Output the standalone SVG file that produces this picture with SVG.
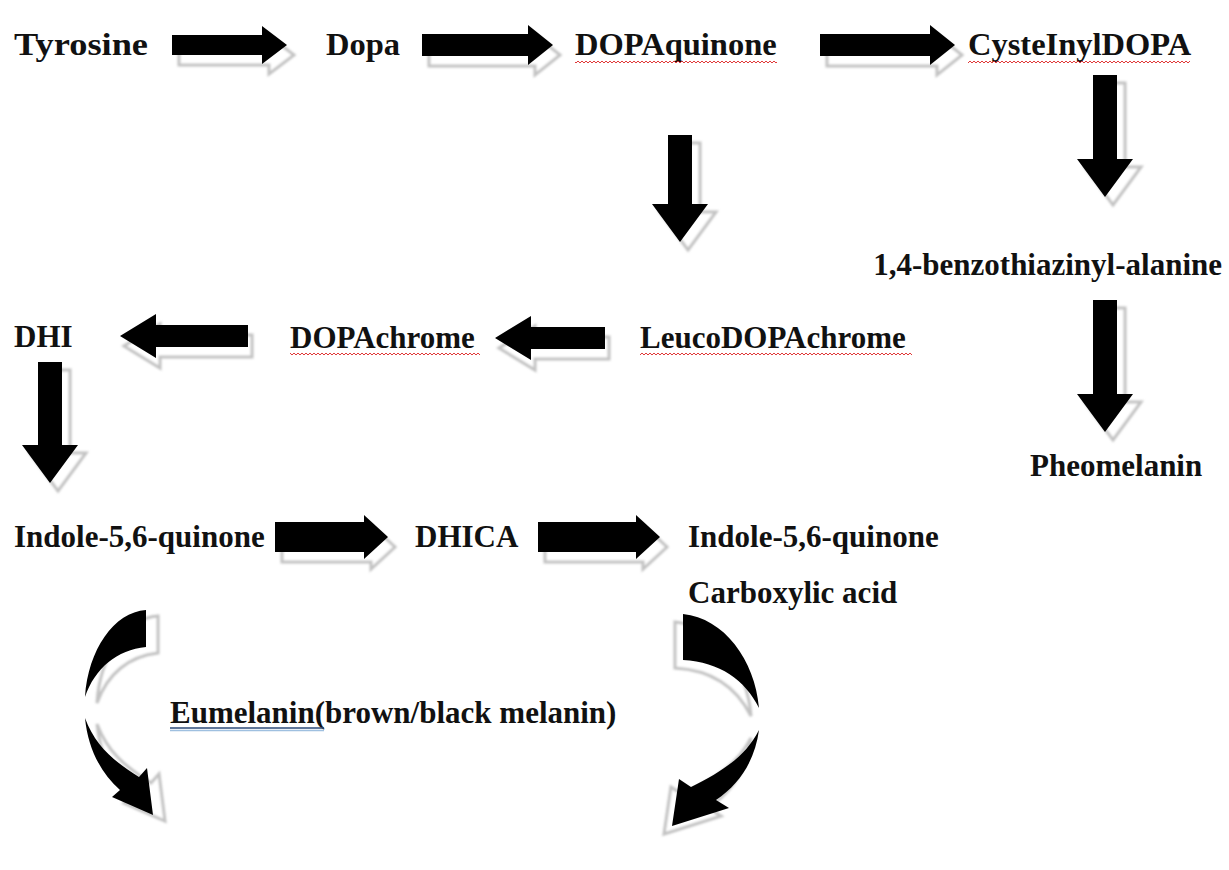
<svg xmlns="http://www.w3.org/2000/svg" width="1229" height="870" viewBox="0 0 1229 870">
<defs>
<style>
.t{font-family:"Liberation Serif","Times New Roman",serif;font-weight:bold;font-size:31px;fill:#111}
.big{font-size:32.5px}
.ar{fill:#000}
.sh{fill:#fff;stroke:#c2c2c2;stroke-width:3;filter:url(#soft)}
</style>
<filter id="soft" x="-20%" y="-20%" width="140%" height="140%"><feGaussianBlur stdDeviation="1"/></filter>
<pattern id="wave" patternUnits="userSpaceOnUse" width="4" height="4"><path d="M0,3 L2,1 L4,3" fill="none" stroke="#d22" stroke-width="0.9"/></pattern>
</defs>
<rect width="1229" height="870" fill="#fff"/>
<g id="connectors">
  <!-- row 1 right arrows -->
  <g transform="translate(7,10)" class="sh">
    <polygon points="172,35 262,35 262,26 287,45 262,64 262,55 172,55"/>
    <polygon points="422,34 528,34 528,25 553,45 528,65 528,56 422,56"/>
    <polygon points="820,34 930,34 930,25 955,45 930,65 930,56 820,56"/>
  </g>
  <polygon class="ar" points="172,35 262,35 262,26 287,45 262,64 262,55 172,55"/>
  <polygon class="ar" points="422,34 528,34 528,25 553,45 528,65 528,56 422,56"/>
  <polygon class="ar" points="820,34 930,34 930,25 955,45 930,65 930,56 820,56"/>
  <!-- down arrows -->
  <g transform="translate(8,8)" class="sh">
    <polygon points="668,135 692,135 692,204 708,204 680,242 652,204 668,204"/>
    <polygon points="1093,75 1117,75 1117,159 1133,159 1105,197 1077,159 1093,159"/>
    <polygon points="1093,300 1117,300 1117,394 1133,394 1105,432 1077,394 1093,394"/>
    <polygon points="38,362 62,362 62,445 78,445 50,483 22,445 38,445"/>
  </g>
  <polygon class="ar" points="668,135 692,135 692,204 708,204 680,242 652,204 668,204"/>
  <polygon class="ar" points="1093,75 1117,75 1117,159 1133,159 1105,197 1077,159 1093,159"/>
  <polygon class="ar" points="1093,300 1117,300 1117,394 1133,394 1105,432 1077,394 1093,394"/>
  <polygon class="ar" points="38,362 62,362 62,445 78,445 50,483 22,445 38,445"/>
  <!-- left arrows -->
  <g transform="translate(4,10)" class="sh">
    <polygon points="248,325 156,325 156,314 120,336 156,358 156,347 248,347"/>
    <polygon points="605,327 531,327 531,316 495,338 531,360 531,349 605,349"/>
  </g>
  <polygon class="ar" points="248,325 156,325 156,314 120,336 156,358 156,347 248,347"/>
  <polygon class="ar" points="605,327 531,327 531,316 495,338 531,360 531,349 605,349"/>
  <!-- row 4 right arrows -->
  <g transform="translate(7,10)" class="sh">
    <polygon points="275,522 364,522 364,515 388,537 364,559 364,552 275,552"/>
    <polygon points="538,522 636,522 636,515 660,537 636,559 636,552 538,552"/>
  </g>
  <polygon class="ar" points="275,522 364,522 364,515 388,537 364,559 364,552 275,552"/>
  <polygon class="ar" points="538,522 636,522 636,515 660,537 636,559 636,552 538,552"/>
  <!-- curved arrows -->
  <g transform="translate(12,6)" class="sh">
    <path d="M146,610 C114,612 88,650 85,697 C95,668 117,650 146,647 Z"/>
    <path d="M85,718 C88,748 100,772 120,790 L112,797 L153,815 L147,768 L139,777 C112,760 95,745 85,718 Z"/>
  </g>
  <path class="ar" d="M146,610 C114,612 88,650 85,697 C95,668 117,650 146,647 Z"/>
  <path class="ar" d="M85,718 C88,748 100,772 120,790 L112,797 L153,815 L147,768 L139,777 C112,760 95,745 85,718 Z"/>
  <g transform="translate(-8,8)" class="sh">
    <path d="M683,614 C724,618 755,660 759,708 C745,680 720,662 683,660 Z"/>
    <path d="M759,730 C755,760 740,784 716,800 L729,808 L672,826 L679,779 L691,787 C723,771 746,756 759,730 Z"/>
  </g>
  <path class="ar" d="M683,614 C724,618 755,660 759,708 C745,680 720,662 683,660 Z"/>
  <path class="ar" d="M759,730 C755,760 740,784 716,800 L729,808 L672,826 L679,779 L691,787 C723,771 746,756 759,730 Z"/>
</g>
<g id="n-tyrosine"><text class="t big" x="14" y="55" textLength="134" lengthAdjust="spacingAndGlyphs">Tyrosine</text></g>
<g id="n-dopa"><text class="t big" x="326" y="55">Dopa</text></g>
<g id="n-dopaquinone"><text class="t big" x="575" y="55">DOPAquinone</text><rect x="575" y="60" width="202" height="4" fill="url(#wave)"/></g>
<g id="n-cysteinyldopa"><text class="t big" x="968" y="55">CysteInylDOPA</text><rect x="968" y="60" width="222" height="4" fill="url(#wave)"/></g>
<g id="n-benzothiazinyl"><text class="t" x="1222" y="275" text-anchor="end">1,4-benzothiazinyl-alanine</text></g>
<g id="n-pheomelanin"><text class="t" x="1030" y="476">Pheomelanin</text></g>
<g id="n-dhi"><text class="t" x="14" y="347">DHI</text></g>
<g id="n-dopachrome"><text class="t" x="290" y="348">DOPAchrome</text><rect x="290" y="352" width="190" height="4" fill="url(#wave)"/></g>
<g id="n-leucodopachrome"><text class="t" x="640" y="348">LeucoDOPAchrome</text><rect x="640" y="352" width="272" height="4" fill="url(#wave)"/></g>
<g id="n-indole1"><text class="t" x="14" y="547">Indole-5,6-quinone</text></g>
<g id="n-dhica"><text class="t" x="415" y="547">DHICA</text></g>
<g id="n-indole2"><text class="t" x="688" y="547">Indole-5,6-quinone</text><text class="t" x="688" y="603">Carboxylic acid</text></g>
<g id="n-eumelanin"><text class="t" x="170" y="723">Eumelanin(brown/black melanin)</text><line x1="170" y1="728" x2="324" y2="728" stroke="#2b4a78" stroke-width="1.6"/><line x1="170" y1="730.5" x2="324" y2="730.5" stroke="#9fc0e0" stroke-width="1.4"/></g>
</svg>
